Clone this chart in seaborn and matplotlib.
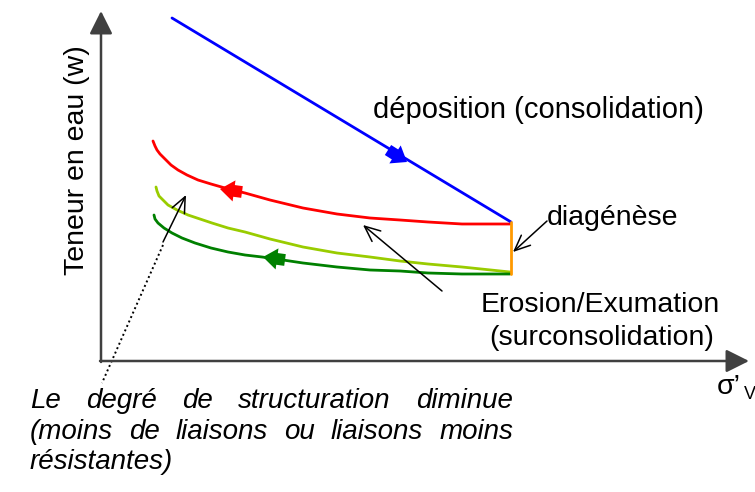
import matplotlib
matplotlib.use("Agg")
import matplotlib.pyplot as plt
import seaborn as sns
import pandas as pd

# schematic curves (x to the right, y downwards, in pixels)
depo_x = [172, 511]
depo_y = [18, 222]

red_x = [153, 155, 157, 160, 165, 171, 178, 187, 198, 211, 225, 245, 270, 303, 337, 370, 400, 428, 462, 510]
red_y = [141, 146, 150, 154, 159, 165, 170, 175, 180, 184, 188, 193, 200, 208, 214, 218, 220, 222, 224, 224]

lgreen_x = [156, 157, 159, 163, 168, 177, 188, 200, 212, 228, 245, 270, 303, 337, 370, 400, 428, 462, 510]
lgreen_y = [187, 191, 196, 200, 205, 210, 215, 219, 223, 228, 232, 239, 247, 253, 257, 261, 264, 267, 272]

dgreen_x = [154, 155, 158, 164, 172, 182, 195, 211, 228, 245, 262, 283, 303, 337, 370, 400, 428, 462, 510]
dgreen_y = [215, 219, 223, 228, 233, 238, 243, 248, 252, 255, 257, 260, 263, 267, 270, 271, 273, 274, 274]

diag_x = [511, 511]
diag_y = [222, 274]

line1 = "Le degré de structuration diminue".split()
line2 = "(moins de liaisons ou liaisons moins".split()
line3 = "résistantes)"

sns.set_style("white")
plt.rcParams['font.family'] = ['Liberation Sans', 'DejaVu Sans']
plt.rcParams['text.color'] = 'black'

fig = plt.figure(figsize=(7.55, 4.92), dpi=100)
ax = fig.add_axes([0, 0, 1, 1])
ax.axis('off')

curves = pd.DataFrame({
    'x': red_x + lgreen_x + dgreen_x,
    'y': red_y + lgreen_y + dgreen_y,
    'path': ['red'] * len(red_x) + ['lgreen'] * len(lgreen_x) + ['dgreen'] * len(dgreen_x),
})
palette = {'red': '#ff0000', 'lgreen': '#99cc00', 'dgreen': '#008000'}
sns.lineplot(data=curves, x='x', y='y', hue='path', palette=palette, estimator=None,
             sort=False, lw=2.0, legend=False, ax=ax)
sns.lineplot(x=depo_x, y=depo_y, color='#0000ff', estimator=None, sort=False, lw=2.0, ax=ax)
sns.lineplot(x=diag_x, y=diag_y, color='#ff9900', estimator=None, sort=False, lw=2.0, ax=ax)
ax.set_xlim(0, 755)
ax.set_ylim(492, 0)
ax.axis('off')

# axes drawn as arrows
axis_col = '#404040'
ax_arrow = dict(arrowstyle='-|>,head_length=1.0,head_width=0.5', lw=1.8,
                color=axis_col, mutation_scale=14, shrinkA=0, shrinkB=0)
ax.annotate('', xy=(101, 11), xytext=(101, 362), arrowprops=ax_arrow)
ax.annotate('', xy=(749, 361), xytext=(100, 361), arrowprops=ax_arrow)

# direction arrows on the paths
def path_arrow(tip, tail, col):
    ax.annotate('', xy=tip, xytext=tail,
                arrowprops=dict(arrowstyle='simple,head_length=0.6,head_width=0.9,tail_width=0.5',
                                color=col, mutation_scale=17, shrinkA=0, shrinkB=0, lw=0))

path_arrow((407, 162), (388, 150), '#0000ff')
path_arrow((220, 189), (242, 192), '#ff0000')
path_arrow((263, 257), (285, 260), '#008000')

# annotation arrows
thin = dict(arrowstyle='->,head_length=0.8,head_width=0.35', lw=1.1, color='black',
            mutation_scale=14, shrinkA=0, shrinkB=0)
ax.annotate('', xy=(513, 252), xytext=(547, 221), arrowprops=thin)
ax.annotate('', xy=(363, 225), xytext=(442, 291), arrowprops=thin)
ax.annotate('', xy=(186, 195), xytext=(163, 242), arrowprops=thin)
ax.plot([163, 102], [245, 383], ls=(0, (1, 1.5)), lw=1.4, color='black')

fs = 20.5
ax.text(373, 110, 'déposition (consolidation)', fontsize=21, ha='left', va='center')
ax.text(547, 218, 'diagénèse', fontsize=fs, ha='left', va='center')
ax.text(600, 305, 'Erosion/Exumation', fontsize=fs, ha='center', va='center')
ax.text(602, 338, '(surconsolidation)', fontsize=fs, ha='center', va='center')
ax.text(77, 160, 'Teneur en eau (w)', fontsize=fs, rotation=90, ha='center', va='center')
ax.text(717, 394, 'σ’', fontsize=fs, ha='left', va='baseline')
ax.text(744, 399, 'V', fontsize=13, ha='left', va='baseline')

# justified italic note
ifs = 20
fig.canvas.draw()
renderer = fig.canvas.get_renderer()


def justify(words, x0, x1, y):
    texts = [ax.text(0, y, w, fontsize=ifs, style='italic', ha='left', va='baseline')
             for w in words]
    widths = [t.get_window_extent(renderer).width for t in texts]
    gap = (x1 - x0 - sum(widths)) / (len(words) - 1)
    x = x0
    for t, w in zip(texts, widths):
        t.set_x(x)
        x += w + gap


justify(line1, 30, 513, 408)
justify(line2, 30, 513, 439)
ax.text(30, 469, line3, fontsize=ifs, style='italic', ha='left', va='baseline')

fig.savefig('out.png', dpi=100)
